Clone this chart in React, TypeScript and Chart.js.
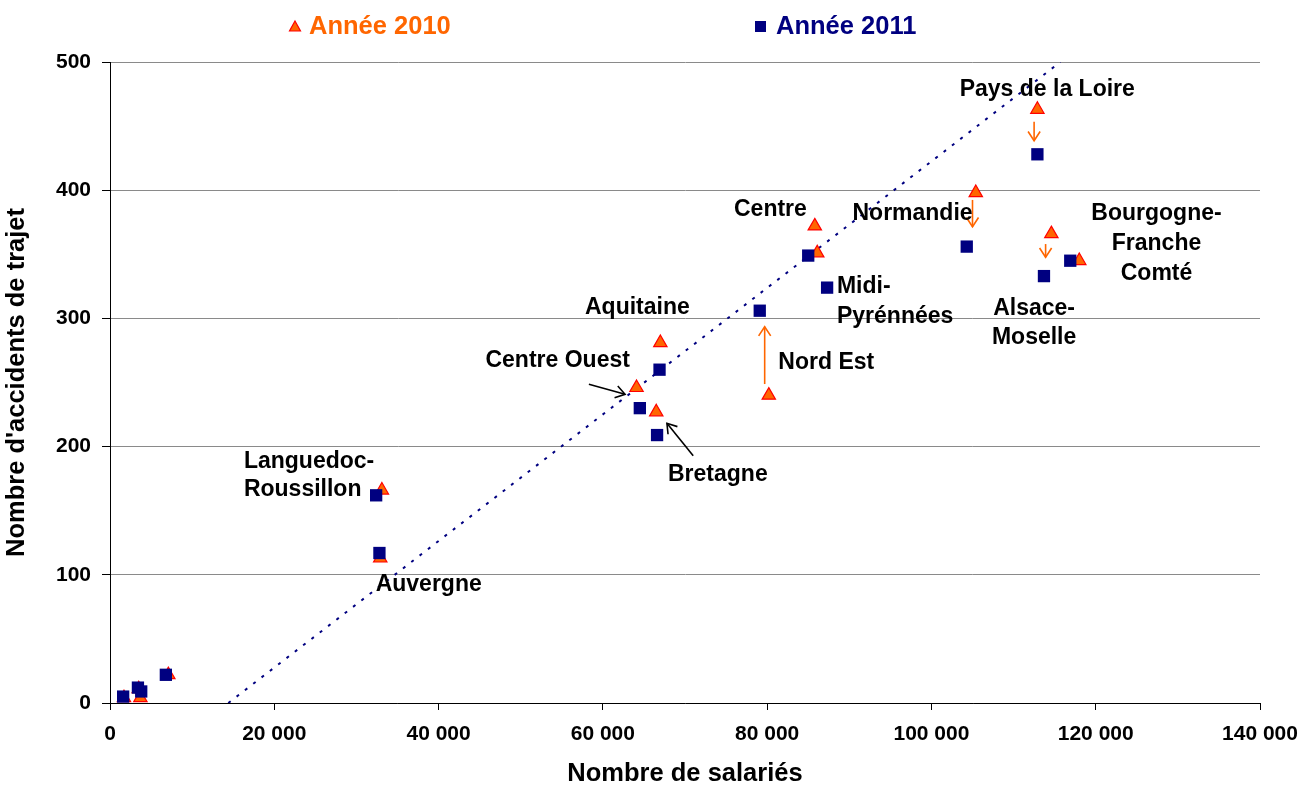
import React, { useEffect, useRef } from 'react';
import { Chart, registerables } from 'chart.js';

Chart.register(...registerables);

// ---- Data ----
const salaries2010 = [1700, 3500, 3700, 7100, 33100, 32900, 67000, 64100, 66500, 80200, 85800, 86100, 105400, 112900, 114600, 118000];
const accidents2010 = [4, 11, 4, 22, 166, 113, 281, 246, 227, 240, 372, 351, 398, 463, 366, 345];
const salaries2011 = [1600, 3400, 3800, 6800, 32400, 32800, 66900, 64500, 66600, 79100, 85000, 87300, 104300, 112900, 113700, 116900];
const accidents2011 = [5, 12, 9, 22, 162, 117, 260, 230, 209, 306, 349, 324, 356, 428, 333, 345];

const trendX = [14400, 115700];
const trendY = [0, 500];

const xTicks = [0, 20000, 40000, 60000, 80000, 100000, 120000, 140000];
const yTicks = [0, 100, 200, 300, 400, 500];

const labelTexts = ['Pays de la Loire', 'Normandie', 'Centre', 'Bourgogne-', 'Franche', 'Comté', 'Midi-', 'Pyrénnées', 'Alsace-', 'Moselle', 'Nord Est', 'Aquitaine', 'Centre Ouest', 'Bretagne', 'Languedoc-', 'Roussillon', 'Auvergne'];
const labelX = [114100, 97700, 80400, 127400, 127400, 127400, 88500, 88500, 112500, 112500, 87200, 64200, 54500, 74000, 16300, 16300, 38800];
const labelY = [478.6, 381.4, 384.6, 381.4, 358, 335, 324.7, 301.3, 307.9, 285.3, 265.4, 308.7, 267, 177.8, 188.2, 166.1, 92];
const labelLeftAligned = [false, false, false, false, false, false, true, true, false, false, false, false, false, false, true, true, false];

const arrowFromX = [58300, 71000, 79700, 105000, 112500, 113900];
const arrowFromY = [248.6, 192.9, 248.8, 392.4, 453.4, 358];
const arrowToX = [62700, 67800, 79700, 105000, 112500, 113900];
const arrowToY = [240.8, 218.2, 293.5, 371.5, 438.6, 347.7];
const arrowIsChange = [false, false, true, true, true, true];

const legendTexts = ['Année 2010', 'Année 2011'];

const ORANGE = '#FF6600';
const RED = '#FF0000';
const NAVY = '#000080';
const FONT = "'Liberation Sans', Arial, Helvetica, sans-serif";

function fmt(v: number) {
  return String(v).replace(/\B(?=(\d{3})+(?!\d))/g, ' ');
}

const annotationPlugin = {
  id: 'annot',
  afterDatasetsDraw(chart: any) {
    const ctx = chart.ctx;
    const xs = chart.scales.x;
    const ys = chart.scales.y;
    ctx.save();
    for (let i = 0; i < arrowFromX.length; i++) {
      const x1 = xs.getPixelForValue(arrowFromX[i]);
      const y1 = ys.getPixelForValue(arrowFromY[i]);
      const x2 = xs.getPixelForValue(arrowToX[i]);
      const y2 = ys.getPixelForValue(arrowToY[i]);
      ctx.strokeStyle = arrowIsChange[i] ? ORANGE : '#000000';
      ctx.lineWidth = 1.6;
      ctx.beginPath();
      ctx.moveTo(x1, y1);
      ctx.lineTo(x2, y2);
      ctx.stroke();
      const ang = Math.atan2(y2 - y1, x2 - x1);
      const len = 11;
      const spread = 0.58;
      ctx.beginPath();
      ctx.moveTo(x2 - len * Math.cos(ang - spread), y2 - len * Math.sin(ang - spread));
      ctx.lineTo(x2, y2);
      ctx.lineTo(x2 - len * Math.cos(ang + spread), y2 - len * Math.sin(ang + spread));
      ctx.stroke();
    }
    ctx.fillStyle = '#000000';
    ctx.font = `bold 23px ${FONT}`;
    ctx.textBaseline = 'middle';
    for (let i = 0; i < labelTexts.length; i++) {
      ctx.textAlign = labelLeftAligned[i] ? 'left' : 'center';
      ctx.fillText(labelTexts[i], xs.getPixelForValue(labelX[i]), ys.getPixelForValue(labelY[i]));
    }
    ctx.restore();
  },
  afterDraw(chart: any) {
    const ctx = chart.ctx;
    ctx.save();
    const cy = 27;
    const tx = 295;
    ctx.beginPath();
    ctx.moveTo(tx, cy - 6);
    ctx.lineTo(tx + 5.5, cy + 4);
    ctx.lineTo(tx - 5.5, cy + 4);
    ctx.closePath();
    ctx.fillStyle = ORANGE;
    ctx.fill();
    ctx.strokeStyle = RED;
    ctx.lineWidth = 1.2;
    ctx.stroke();
    ctx.font = `bold 25.5px ${FONT}`;
    ctx.textBaseline = 'middle';
    ctx.textAlign = 'left';
    ctx.fillStyle = ORANGE;
    ctx.fillText(legendTexts[0], 309, cy);
    ctx.fillStyle = NAVY;
    ctx.fillRect(755, cy - 6, 11, 11);
    ctx.fillText(legendTexts[1], 776, cy);
    ctx.restore();
  },
};

export default function App() {
  const ref = useRef<HTMLCanvasElement | null>(null);
  useEffect(() => {
    if (!ref.current) return;
    Chart.defaults.font.family = FONT;
    const chart = new Chart(ref.current, {
      type: 'scatter',
      data: {
        datasets: [
          {
            label: legendTexts[1],
            data: salaries2011.map((x, i) => ({ x, y: accidents2011[i] })),
            pointStyle: 'rect',
            pointRadius: 8.7,
            pointHoverRadius: 8.7,
            backgroundColor: NAVY,
            borderColor: NAVY,
            borderWidth: 0,
            order: 1,
          },
          {
            label: legendTexts[0],
            data: salaries2010.map((x, i) => ({ x, y: accidents2010[i] })),
            pointStyle: 'triangle',
            pointRadius: 7.7,
            pointHoverRadius: 7.7,
            backgroundColor: ORANGE,
            borderColor: RED,
            borderWidth: 1.2,
            order: 2,
          },
          {
            label: 'Tendance',
            data: trendX.map((x, i) => ({ x, y: trendY[i] })),
            showLine: true,
            pointRadius: 0,
            borderColor: NAVY,
            borderWidth: 2,
            borderDash: [3, 7.5],
            fill: false,
            order: 3,
          } as any,
        ],
      },
      options: {
        animation: false,
        responsive: false,
        devicePixelRatio: 1,
        events: [],
        layout: { padding: { top: 62, right: 56, left: 0, bottom: 0 } },
        plugins: {
          legend: { display: false },
          tooltip: { enabled: false },
        },
        scales: {
          x: {
            type: 'linear',
            min: 0,
            max: 140000,
            afterFit: (s: any) => { s.height = 84; },
            afterBuildTicks: (s: any) => { s.ticks = xTicks.map((v) => ({ value: v })); },
            ticks: {
              callback: (v: any) => fmt(Number(v)),
              color: '#000',
              font: { size: 21, weight: 'bold' },
              padding: 12,
              maxRotation: 0,
            },
            grid: { drawOnChartArea: false, drawTicks: true, tickLength: 7, tickColor: '#000' },
            border: { color: '#000', width: 1 },
            title: {
              display: true,
              text: 'Nombre de salariés',
              color: '#000',
              font: { size: 25.5, weight: 'bold', lineHeight: 1.0 },
              padding: { top: 0, bottom: 0 },
            },
          },
          y: {
            type: 'linear',
            min: 0,
            max: 500,
            afterFit: (s: any) => { s.width = 110; },
            afterBuildTicks: (s: any) => { s.ticks = yTicks.map((v) => ({ value: v })); },
            ticks: {
              color: '#000',
              font: { size: 21, weight: 'bold' },
              padding: 11,
            },
            grid: { color: '#8a8a8a', lineWidth: 1, drawTicks: true, tickLength: 8, tickColor: '#000' },
            border: { color: '#000', width: 1 },
            title: {
              display: true,
              text: "Nombre d'accidents de trajet",
              color: '#000',
              font: { size: 25.5, weight: 'bold', lineHeight: 1.2 },
              padding: { top: 2, bottom: 0 },
            },
          },
        },
      },
      plugins: [
        annotationPlugin,
        {
          id: 'bg',
          beforeDraw(c: any) {
            const ctx = c.ctx;
            ctx.save();
            ctx.fillStyle = '#ffffff';
            ctx.fillRect(0, 0, c.width, c.height);
            ctx.restore();
          },
        },
      ],
    } as any);
    return () => chart.destroy();
  }, []);

  return (
    <div style={{ position: 'absolute', left: 0, top: 0, width: 1316, height: 787, background: '#fff' }}>
      <canvas ref={ref} width={1316} height={787} style={{ width: 1316, height: 787, display: 'block' }} />
    </div>
  );
}
